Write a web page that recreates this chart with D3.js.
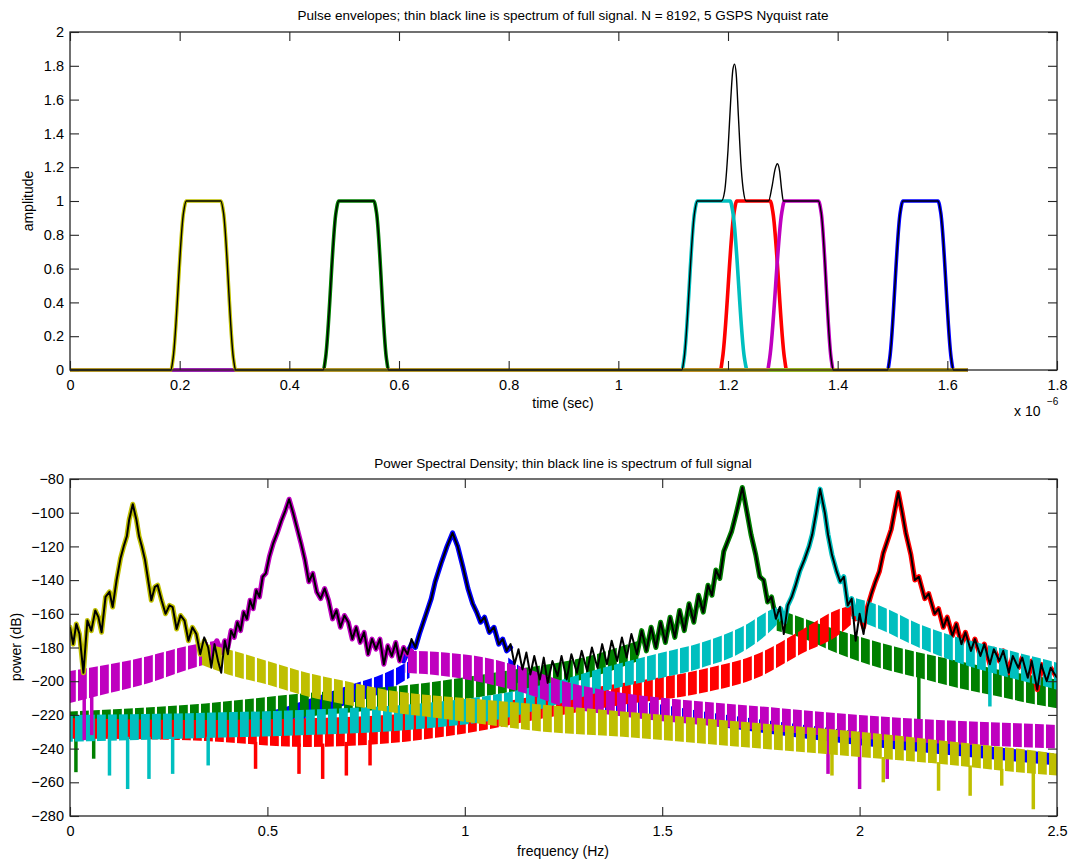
<!doctype html>
<html>
<head>
<meta charset="utf-8">
<title>Pulse envelopes and PSD</title>
<script src="https://cdn.jsdelivr.net/npm/d3@7"></script>
<style>
body { margin: 0; background: #fff; }
text { font-family: "Liberation Sans", Arial, Helvetica, sans-serif; fill: #000; }
</style>
</head>
<body>
<script>
// ---- tick values / labels
var timeTicks = [0, 0.2, 0.4, 0.6, 0.8, 1, 1.2, 1.4, 1.6, 1.8];
var timeLabels = ["0", "0.2", "0.4", "0.6", "0.8", "1", "1.2", "1.4", "1.6", "1.8"];
var ampTicks = [0, 0.2, 0.4, 0.6, 0.8, 1, 1.2, 1.4, 1.6, 1.8, 2];
var ampLabels = ["0", "0.2", "0.4", "0.6", "0.8", "1", "1.2", "1.4", "1.6", "1.8", "2"];
var freqTicks = [0, 0.5, 1, 1.5, 2, 2.5];
var freqLabels = ["0", "0.5", "1", "1.5", "2", "2.5"];
var powTicks = [-280, -260, -240, -220, -200, -180, -160, -140, -120, -100, -80];
var powLabels = ["\u2212280", "\u2212260", "\u2212240", "\u2212220", "\u2212200", "\u2212180", "\u2212160", "\u2212140", "\u2212120", "\u2212100", "\u221280"];

// ---- pulse envelopes, [time (x1e-6 s), amplitude]
var pulseBlue = [[0,0],[1.491,0],[1.495,0.07],[1.514,0.93],[1.519,1],[1.583,1],[1.588,0.93],[1.607,0.07],[1.611,0],[1.637,0]];
var pulseGreen = [[0,0],[0.462,0],[0.466,0.07],[0.485,0.93],[0.49,1],[0.554,1],[0.559,0.93],[0.577,0.07],[0.581,0],[1.637,0]];
var pulseRed = [[0,0],[1.186,0],[1.19,0.07],[1.211,0.93],[1.216,1],[1.277,1],[1.282,0.93],[1.303,0.07],[1.307,0],[1.637,0]];
var pulseCyan = [[0,0],[1.116,0],[1.12,0.07],[1.139,0.93],[1.144,1],[1.204,1],[1.209,0.93],[1.23,0.07],[1.235,0],[1.637,0]];
var pulseMagenta = [[0,0],[1.272,0],[1.276,0.07],[1.298,0.93],[1.303,1],[1.365,1],[1.37,0.93],[1.388,0.07],[1.392,0],[1.637,0]];
var pulseYellow = [[0,0],[0.184,0],[0.188,0.07],[0.207,0.93],[0.212,1],[0.275,1],[0.28,0.93],[0.298,0.07],[0.302,0],[1.637,0]];
var pulseFull = [[0,0],[0.184,0],[0.188,0.07],[0.207,0.93],[0.212,1],[0.275,1],[0.28,0.93],[0.298,0.07],[0.302,0],
  [0.462,0],[0.466,0.07],[0.485,0.93],[0.49,1],[0.554,1],[0.559,0.93],[0.577,0.07],[0.581,0],
  [1.116,0],[1.12,0.07],[1.139,0.93],[1.144,1],[1.188,1],[1.194,1.06],[1.2,1.3],[1.205,1.6],[1.209,1.78],[1.212,1.81],
  [1.215,1.75],[1.219,1.5],[1.224,1.2],[1.229,1.04],[1.233,1],[1.274,1],[1.28,1.08],[1.286,1.19],[1.29,1.22],
  [1.294,1.18],[1.298,1.06],[1.301,1],[1.365,1],[1.37,0.93],[1.388,0.07],[1.392,0],
  [1.491,0],[1.495,0.07],[1.514,0.93],[1.519,1],[1.583,1],[1.588,0.93],[1.607,0.07],[1.611,0],[1.637,0]];

// ---- PSD: main lobes [freq, dB]
var lobeYellow = [[0,-168],[0.008,-178],[0.016,-166],[0.024,-172],[0.034,-195],[0.044,-164],[0.054,-170],[0.064,-158],[0.072,-162],[0.08,-171],[0.09,-150],[0.1,-147],[0.108,-156],[0.118,-140],[0.128,-127],[0.136,-120],[0.144,-114],[0.15,-104],[0.159,-95],[0.168,-104],[0.175,-114],[0.182,-120],[0.19,-128],[0.198,-140],[0.206,-152],[0.215,-144],[0.222,-143],[0.232,-152],[0.242,-160],[0.252,-155],[0.26,-156],[0.27,-169],[0.28,-161],[0.29,-164],[0.3,-176],[0.31,-168],[0.32,-172],[0.33,-184],[0.34,-176]];
var lobeMagenta = [[0.36,-181],[0.372,-176],[0.384,-183],[0.392,-176],[0.4,-180],[0.408,-170],[0.416,-174],[0.424,-165],[0.432,-170],[0.44,-159],[0.448,-163],[0.456,-152],[0.464,-157],[0.472,-146],[0.48,-150],[0.488,-138],[0.496,-136],[0.505,-126],[0.515,-118],[0.525,-112],[0.535,-105],[0.545,-99],[0.555,-92],[0.565,-100],[0.575,-109],[0.585,-118],[0.595,-128],[0.605,-141],[0.615,-136],[0.625,-147],[0.635,-151],[0.645,-145],[0.655,-152],[0.665,-163],[0.675,-158],[0.685,-168],[0.695,-161],[0.705,-165],[0.715,-175],[0.725,-168],[0.735,-177],[0.745,-171],[0.755,-184],[0.765,-175],[0.775,-181],[0.785,-175],[0.795,-190],[0.805,-179],[0.815,-185],[0.825,-177],[0.835,-188],[0.845,-180],[0.855,-184],[0.865,-182]];
var lobeBlue = [[0.845,-188],[0.855,-183],[0.865,-178],[0.875,-180],[0.885,-172],[0.895,-165],[0.905,-158],[0.915,-151],[0.925,-141],[0.94,-130],[0.955,-120],[0.969,-112],[0.982,-120],[0.995,-132],[1.008,-145],[1.02,-154],[1.03,-159],[1.04,-165],[1.05,-162],[1.062,-171],[1.074,-168],[1.086,-178],[1.096,-175],[1.106,-182],[1.116,-180]];
var lobeGreen = [[1.436,-184],[1.448,-170],[1.46,-182],[1.472,-168],[1.484,-180],[1.496,-165],[1.508,-177],[1.52,-162],[1.532,-174],[1.544,-158],[1.556,-170],[1.568,-154],[1.58,-165],[1.592,-149],[1.604,-159],[1.616,-143],[1.626,-149],[1.636,-134],[1.646,-139],[1.656,-123],[1.666,-117],[1.676,-111],[1.688,-100],[1.703,-85],[1.715,-100],[1.725,-113],[1.737,-125],[1.747,-138],[1.757,-140],[1.767,-153],[1.777,-150],[1.788,-163],[1.798,-158]];
var lobeCyan = [[1.79,-162],[1.8,-157],[1.81,-165],[1.818,-155],[1.828,-150],[1.838,-143],[1.848,-135],[1.86,-128],[1.872,-120],[1.88,-113],[1.89,-100],[1.9,-86],[1.912,-100],[1.92,-113],[1.93,-125],[1.942,-135],[1.951,-141],[1.96,-138],[1.97,-155],[1.98,-151],[1.99,-160]];
var lobeRed = [[1.975,-157],[1.99,-163],[2,-160],[2.01,-168],[2.02,-156],[2.03,-148],[2.04,-141],[2.05,-135],[2.06,-124],[2.07,-117],[2.08,-110],[2.088,-100],[2.098,-88],[2.108,-100],[2.117,-112],[2.13,-125],[2.14,-140],[2.15,-138],[2.165,-151],[2.175,-148],[2.19,-160],[2.2,-157],[2.212,-168],[2.222,-162],[2.235,-173],[2.245,-166],[2.258,-178],[2.268,-171],[2.282,-182],[2.292,-175],[2.306,-185],[2.316,-178],[2.33,-190],[2.34,-181],[2.354,-188],[2.364,-182],[2.378,-195],[2.388,-185],[2.402,-192],[2.412,-186],[2.426,-198],[2.436,-188],[2.45,-205],[2.46,-190],[2.474,-200],[2.484,-192],[2.5,-198]];

// ---- PSD: side-lobe comb, [freq, top dB, bottom dB]
var bandBlue = [[[0,-224,-234],[0.3,-222,-233],[0.5,-218,-230],[0.6,-211,-222],[0.7,-203,-214],[0.8,-195,-206],[0.86,-188,-198]],
                [[1.11,-186,-197],[1.2,-200,-210],[1.5,-214,-222],[2,-230,-238],[2.5,-243,-250]]];
var bandGreen = [[[0,-218,-232],[0.3,-214,-228],[0.6,-207,-221],[0.9,-201,-214],[1.1,-194,-207],[1.3,-186,-199],[1.44,-176,-188]],
                 [[1.79,-157,-170],[1.85,-162,-174],[1.95,-170,-184],[2.05,-177,-192],[2.15,-183,-198],[2.25,-188,-204],[2.35,-193,-209],[2.45,-197,-214],[2.5,-199,-216]]];
var bandRed = [[[0,-222,-234],[0.3,-223,-235],[0.6,-222,-239],[0.8,-220,-237],[1,-216,-231],[1.2,-208,-222],[1.4,-201,-214],[1.6,-193,-207],[1.75,-183,-197],[1.85,-170,-184],[1.95,-157,-172],[1.98,-155,-166]]];
var bandCyan = [[[0,-220,-236],[0.3,-219,-234],[0.6,-217,-232],[0.9,-213,-228],[1.1,-207,-222],[1.2,-202,-216],[1.35,-192,-206],[1.5,-183,-198],[1.6,-177,-192],[1.7,-168,-183],[1.78,-157,-169],[1.8,-155,-164]],
                [[1.98,-150,-163],[2.05,-155,-169],[2.15,-166,-180],[2.25,-174,-189],[2.35,-180,-196],[2.45,-186,-202],[2.5,-189,-205]]];
var bandMagenta = [[[0,-194,-213],[0.1,-190,-207],[0.2,-185,-201],[0.3,-179,-193],[0.37,-176,-188]],
                   [[0.85,-182,-195],[0.95,-183,-197],[1.05,-186,-201],[1.15,-192,-207],[1.25,-200,-215],[1.4,-207,-221],[1.6,-212,-226],[1.8,-216,-230],[2,-220,-234],[2.2,-223,-237],[2.4,-225,-239],[2.5,-226,-240]]];
var bandYellow = [[[0.33,-177,-190],[0.4,-181,-196],[0.5,-188,-202],[0.6,-195,-209],[0.7,-200,-214],[0.8,-205,-218],[0.9,-208,-221],[1,-210,-224],[1.2,-214,-230],[1.4,-218,-233],[1.6,-222,-237],[1.8,-226,-241],[2,-230,-245],[2.2,-235,-249],[2.4,-240,-254],[2.5,-243,-256]]];

// deep notches [freq, from dB, to dB]
var spikesGreen = [[0.015,-230,-254],[0.06,-230,-246],[2.15,-196,-224]];
var spikesRed = [[0.47,-236,-252],[0.58,-237,-255],[0.64,-237,-258],[0.7,-236,-256],[0.76,-235,-250]];
var spikesCyan = [[0.1,-233,-256],[0.146,-233,-264],[0.2,-233,-258],[0.26,-233,-255],[0.35,-233,-250],[2.33,-193,-215]];
var spikesMagenta = [[0.036,-210,-235],[0.055,-208,-232],[1.92,-232,-255],[2,-233,-264],[2.07,-235,-258]];
var spikesYellow = [[1.93,-242,-256],[2.06,-245,-260],[2.2,-248,-265],[2.28,-250,-268],[2.36,-252,-262],[2.44,-254,-276]];

// full-signal spectrum (thin black line)
var psdFull = [[0,-168],[0.008,-178],[0.016,-166],[0.024,-172],[0.034,-195],[0.044,-164],[0.054,-170],[0.064,-158],[0.072,-162],[0.08,-171],[0.09,-150],[0.1,-147],[0.108,-156],[0.118,-140],[0.128,-127],[0.136,-120],[0.144,-114],[0.15,-104],[0.159,-95],[0.168,-104],[0.175,-114],[0.182,-120],[0.19,-128],[0.198,-140],[0.206,-152],[0.215,-144],[0.222,-143],[0.232,-152],[0.242,-160],[0.252,-155],[0.26,-156],[0.27,-169],[0.28,-161],[0.29,-164],[0.3,-176],[0.31,-168],[0.32,-172],[0.33,-184],[0.34,-174],[0.35,-180],[0.358,-192],[0.366,-178],[0.375,-188],[0.383,-195],[0.392,-176],[0.4,-184],
  [0.408,-170],[0.416,-174],[0.424,-165],[0.432,-170],[0.44,-159],[0.448,-163],[0.456,-152],[0.464,-157],[0.472,-146],[0.48,-150],[0.488,-138],[0.496,-136],[0.505,-126],[0.515,-118],[0.525,-112],[0.535,-105],[0.545,-99],[0.555,-92],[0.565,-100],[0.575,-109],[0.585,-118],[0.595,-128],[0.605,-141],[0.615,-136],[0.625,-147],[0.635,-151],[0.645,-145],[0.655,-152],[0.665,-163],[0.675,-158],[0.685,-168],[0.695,-161],[0.705,-165],[0.715,-175],[0.725,-168],[0.735,-177],[0.745,-171],[0.755,-184],[0.765,-175],[0.775,-181],[0.785,-175],[0.795,-190],[0.805,-179],[0.815,-185],[0.825,-177],[0.835,-188],[0.845,-180],[0.855,-184],[0.865,-175],
  [0.875,-180],[0.885,-172],[0.895,-165],[0.905,-158],[0.915,-151],[0.925,-141],[0.94,-130],[0.955,-120],[0.969,-112],[0.982,-120],[0.995,-132],[1.008,-145],[1.02,-154],[1.03,-159],[1.04,-165],[1.05,-162],[1.062,-171],[1.074,-168],[1.086,-178],[1.096,-175],[1.106,-182],[1.116,-178],
  [1.126,-190],[1.136,-181],[1.146,-193],[1.156,-183],[1.166,-196],[1.176,-185],[1.19,-199],[1.2,-186],[1.21,-201],[1.222,-188],[1.235,-197],[1.245,-185],[1.258,-199],[1.27,-184],[1.284,-195],[1.296,-182],[1.31,-194],[1.322,-180],[1.336,-192],[1.348,-178],[1.36,-190],[1.372,-176],[1.386,-188],[1.398,-174],[1.41,-186],[1.422,-172],[1.436,-184],
  [1.448,-170],[1.46,-182],[1.472,-168],[1.484,-180],[1.496,-165],[1.508,-177],[1.52,-162],[1.532,-174],[1.544,-158],[1.556,-170],[1.568,-154],[1.58,-165],[1.592,-149],[1.604,-159],[1.616,-143],[1.626,-149],[1.636,-134],[1.646,-139],[1.656,-123],[1.666,-117],[1.676,-111],[1.688,-100],[1.703,-85],[1.715,-100],[1.725,-113],[1.737,-125],[1.747,-138],[1.757,-140],[1.767,-153],[1.777,-150],[1.788,-163],[1.798,-156],[1.808,-172],
  [1.818,-155],[1.828,-150],[1.838,-143],[1.848,-135],[1.86,-128],[1.872,-120],[1.88,-113],[1.89,-100],[1.9,-86],[1.912,-100],[1.92,-113],[1.93,-125],[1.942,-135],[1.951,-141],[1.96,-138],[1.97,-155],[1.98,-151],[1.99,-176],
  [2,-160],[2.01,-172],[2.02,-156],[2.03,-148],[2.04,-141],[2.05,-135],[2.06,-124],[2.07,-117],[2.08,-110],[2.088,-100],[2.098,-88],[2.108,-100],[2.117,-112],[2.13,-125],[2.14,-140],[2.15,-138],[2.165,-151],[2.175,-148],[2.19,-160],[2.2,-157],[2.212,-168],[2.222,-162],[2.235,-173],[2.245,-166],[2.258,-178],[2.268,-171],[2.282,-182],[2.292,-175],[2.306,-185],[2.316,-178],[2.33,-190],[2.34,-181],[2.354,-188],[2.364,-182],[2.378,-195],[2.388,-185],[2.402,-192],[2.412,-186],[2.426,-198],[2.436,-188],[2.45,-205],[2.46,-190],[2.474,-200],[2.484,-192],[2.5,-198]];

// drawing order = matlab colour order
var series = [
    {name: "blue",    color: "#0000ff", pulse: pulseBlue,    lobe: lobeBlue,    bands: bandBlue,    spikes: []},
    {name: "green",   color: "#008000", pulse: pulseGreen,   lobe: lobeGreen,   bands: bandGreen,   spikes: spikesGreen},
    {name: "red",     color: "#ff0000", pulse: pulseRed,     lobe: lobeRed,     bands: bandRed,     spikes: spikesRed},
    {name: "cyan",    color: "#00bfbf", pulse: pulseCyan,    lobe: lobeCyan,    bands: bandCyan,    spikes: spikesCyan},
    {name: "magenta", color: "#bf00bf", pulse: pulseMagenta, lobe: lobeMagenta, bands: bandMagenta, spikes: spikesMagenta},
    {name: "yellow",  color: "#bfbf00", pulse: pulseYellow,  lobe: lobeYellow,  bands: bandYellow,  spikes: spikesYellow}
];

var width = 1077, height = 860,
    fontFam = "'Liberation Sans', Arial, Helvetica, sans-serif",
    axisColor = "#262626";

var topBox = {left: 70, right: 1057, top: 32, bottom: 370},
    botBox = {left: 70, right: 1057, top: 479, bottom: 816};

var svg = d3.select("body").append("svg")
            .attr("width", width)
            .attr("height", height);

var xTime = d3.scaleLinear().domain([0, 1.8]).range([topBox.left, topBox.right]),
    yAmp = d3.scaleLinear().domain([0, 2]).range([topBox.bottom, topBox.top]),
    xFreq = d3.scaleLinear().domain([0, 2.5]).range([botBox.left, botBox.right]),
    yPow = d3.scaleLinear().domain([-280, -80]).range([botBox.bottom, botBox.top]);

// stripe patterns give the dense comb look of the side lobes
var defs = svg.append("defs");
series.forEach(function(s, i){
    var p = defs.append("pattern")
        .attr("id", "comb-" + s.name)
        .attr("patternUnits", "userSpaceOnUse")
        .attr("width", 11)
        .attr("height", 20)
        .attr("patternTransform", "translate(" + (i * 3) + ",0)");
    p.append("rect").attr("x", 0).attr("y", 0).attr("width", 8.8).attr("height", 20).attr("fill", s.color);
});
defs.append("clipPath").attr("id", "clipBot")
    .append("rect")
    .attr("x", botBox.left).attr("y", botBox.top)
    .attr("width", botBox.right - botBox.left).attr("height", botBox.bottom - botBox.top);
defs.append("clipPath").attr("id", "clipTop")
    .append("rect")
    .attr("x", topBox.left).attr("y", topBox.top - 2)
    .attr("width", topBox.right - topBox.left).attr("height", topBox.bottom - topBox.top + 4);

function frame(box, x, y, xt, xl, yt, yl){
    var g = svg.append("g");
    g.append("g").attr("transform", "translate(0," + box.bottom + ")")
        .call(d3.axisBottom(x).tickValues(xt).tickFormat(function(d, i){ return xl[i]; })
              .tickSizeInner(-9).tickSizeOuter(0).tickPadding(10));
    g.append("g").attr("transform", "translate(0," + box.top + ")")
        .call(d3.axisTop(x).tickValues(xt).tickFormat("").tickSizeInner(-9).tickSizeOuter(0));
    g.append("g").attr("transform", "translate(" + box.left + ",0)")
        .call(d3.axisLeft(y).tickValues(yt).tickFormat(function(d, i){ return yl[i]; })
              .tickSizeInner(-9).tickSizeOuter(0).tickPadding(6));
    g.append("g").attr("transform", "translate(" + box.right + ",0)")
        .call(d3.axisRight(y).tickValues(yt).tickFormat("").tickSizeInner(-9).tickSizeOuter(0));
    g.selectAll(".domain").remove();
    g.selectAll("g").attr("font-family", fontFam).attr("font-size", 14.5);
    g.selectAll(".tick line").attr("stroke", axisColor).attr("stroke-width", 1.1);
    g.selectAll(".tick text").attr("fill", "#000");
    g.append("rect")
        .attr("x", box.left).attr("y", box.top)
        .attr("width", box.right - box.left).attr("height", box.bottom - box.top)
        .attr("fill", "none").attr("stroke", axisColor).attr("stroke-width", 1.3);
}

// ---------- top: pulse envelopes
var pulseLine = d3.line()
    .x(function(d){ return xTime(d[0]); })
    .y(function(d){ return yAmp(d[1]); })
    .curve(d3.curveMonotoneX);

var gTop = svg.append("g").attr("clip-path", "url(#clipTop)");
series.forEach(function(s){
    gTop.append("path")
        .datum(s.pulse)
        .attr("d", pulseLine)
        .attr("fill", "none")
        .attr("stroke", s.color)
        .attr("stroke-width", 3.6)
        .attr("stroke-linejoin", "round");
});
gTop.append("path")
    .datum(pulseFull)
    .attr("d", pulseLine)
    .attr("fill", "none")
    .attr("stroke", "#000")
    .attr("stroke-width", 1.4)
    .attr("stroke-linejoin", "round");

frame(topBox, xTime, yAmp, timeTicks, timeLabels, ampTicks, ampLabels);

// ---------- bottom: power spectral density
var psdLine = d3.line()
    .x(function(d){ return xFreq(d[0]); })
    .y(function(d){ return yPow(d[1]); });

var bandArea = d3.area()
    .x(function(d){ return xFreq(d[0]); })
    .y0(function(d){ return yPow(d[2]); })
    .y1(function(d){ return yPow(d[1]); })
    .curve(d3.curveMonotoneX);

var gBot = svg.append("g").attr("clip-path", "url(#clipBot)");
series.forEach(function(s){
    var g = gBot.append("g");
    g.selectAll("path.band")
        .data(s.bands)
        .enter()
        .append("path")
        .attr("class", "band")
        .attr("d", bandArea)
        .attr("fill", "url(#comb-" + s.name + ")");
    g.selectAll("line")
        .data(s.spikes)
        .enter()
        .append("line")
        .attr("x1", function(d){ return xFreq(d[0]); })
        .attr("x2", function(d){ return xFreq(d[0]); })
        .attr("y1", function(d){ return yPow(d[1]); })
        .attr("y2", function(d){ return yPow(d[2]); })
        .attr("stroke", s.color)
        .attr("stroke-width", 3.5);
    g.append("path")
        .datum(s.lobe)
        .attr("d", psdLine)
        .attr("fill", "none")
        .attr("stroke", s.color)
        .attr("stroke-width", 5)
        .attr("stroke-linejoin", "round")
        .attr("stroke-linecap", "round");
});
gBot.append("path")
    .datum(psdFull)
    .attr("d", psdLine)
    .attr("fill", "none")
    .attr("stroke", "#000")
    .attr("stroke-width", 2)
    .attr("stroke-linejoin", "round");

frame(botBox, xFreq, yPow, freqTicks, freqLabels, powTicks, powLabels);

// ---------- titles and labels
function label(txt, x, y, size, rot){
    var t = svg.append("text")
        .attr("font-family", fontFam)
        .attr("font-size", size)
        .attr("text-anchor", "middle")
        .text(txt);
    if (rot) t.attr("transform", "translate(" + x + "," + y + ") rotate(-90)");
    else t.attr("x", x).attr("y", y);
    return t;
}
label("Pulse envelopes; thin black line is spectrum of full signal. N = 8192, 5 GSPS Nyquist rate", 563, 20, 13.5);
label("time (sec)", 563, 408, 14);
label("amplitude", 33, 201, 14, true);
label("Power Spectral Density; thin black line is spectrum of full signal", 563, 468, 13.5);
label("frequency (Hz)", 563, 856, 14);
label("power (dB)", 21, 647, 14, true);

svg.append("text")
    .attr("font-family", fontFam).attr("font-size", 14)
    .attr("x", 1014).attr("y", 416)
    .text("x 10");
svg.append("text")
    .attr("font-family", fontFam).attr("font-size", 10)
    .attr("x", 1047).attr("y", 405)
    .text("\u22126");
</script>
</body>
</html>
